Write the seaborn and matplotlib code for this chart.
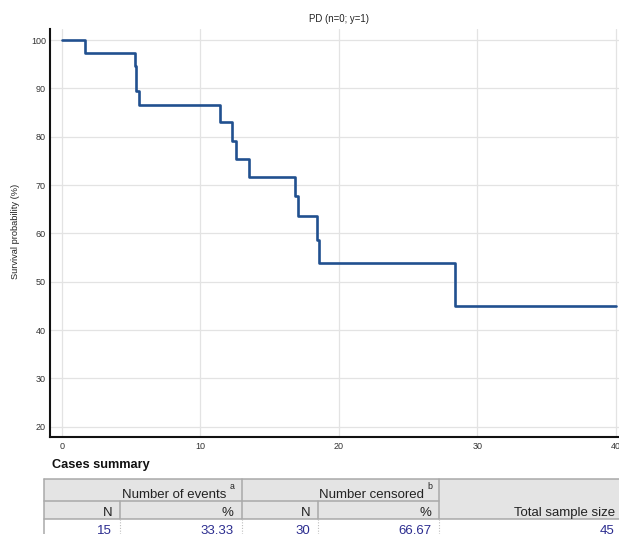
import matplotlib
matplotlib.use("Agg")
import matplotlib.pyplot as plt
import seaborn as sns
import pandas as pd
from matplotlib.patches import Rectangle

# Kaplan-Meier survival estimate (time, survival %)
times = [0, 1.66, 5.25, 5.34, 5.56, 11.38, 12.30, 12.59, 13.50, 16.82, 17.07, 18.39, 18.58, 28.38, 40.0]
survival = [100, 97.4, 94.7, 89.4, 86.5, 83.0, 79.2, 75.4, 71.7, 67.8, 63.6, 58.7, 53.9, 44.9, 44.9]

x_ticks = [0, 10, 20, 30, 40]
y_ticks = [20, 30, 40, 50, 60, 70, 80, 90, 100]

title_text = "PD (n=0; y=1)"
y_label = "Survival probability (%)"

# Cases summary table
summary_title = "Cases summary"
group_headers = ["Number of events", "Number censored"]
group_marks = ["a", "b"]
sub_headers = ["N", "%", "N", "%"]
total_header = "Total sample size"
summary_values = ["15", "33.33", "30", "66.67", "45"]

sns.set_style("white")
plt.rcParams["font.family"] = ["Liberation Sans", "DejaVu Sans"]

W, H = 619, 534
fig = plt.figure(figsize=(W / 100, H / 100), dpi=100)


def px_box(left, top, right, bottom):
    return [left / W, 1 - bottom / H, (right - left) / W, (bottom - top) / H]


ax = fig.add_axes(px_box(50, 28.5, 619, 437.3))
df = pd.DataFrame({"time": times, "survival": survival})
sns.lineplot(data=df, x="time", y="survival", drawstyle="steps-post",
             color="#21508f", linewidth=1.9, estimator=None, ax=ax, zorder=3)

ax.set_xlim(-0.866, 40.22)
ax.set_ylim(17.8, 102.4)
ax.set_xticks(x_ticks)
ax.set_xticklabels([str(v) for v in x_ticks])
ax.set_yticks(y_ticks)
ax.set_yticklabels([str(v) for v in y_ticks])
ax.set_xticks([5, 15, 25, 35], minor=True)
ax.set_yticks([25, 35, 45, 55, 65, 75, 85, 95], minor=True)
ax.set_xlabel("")
ax.set_ylabel("")

ax.grid(True, which="major", color="#e3e3e3", linewidth=0.9, zorder=0)
ax.set_axisbelow(True)
for side in ["top", "right"]:
    ax.spines[side].set_visible(False)
for side in ["left", "bottom"]:
    ax.spines[side].set_color("#111111")
    ax.spines[side].set_linewidth(1.5)

ax.tick_params(axis="x", which="major", direction="in", length=6.5, width=1.2,
               color="#222222", labelsize=6.5, labelcolor="#333333", pad=3.5)
ax.tick_params(axis="y", which="major", direction="in", length=7.8, width=1.2,
               color="#222222", labelsize=6.5, labelcolor="#333333", pad=3)
ax.tick_params(axis="both", which="minor", direction="in", length=3.2, width=0.7,
               color="#888888")

fig.text(339 / W, 1 - 19 / H, title_text, ha="center", va="center",
         fontsize=6.9, color="#222222")
fig.text(15.5 / W, 1 - 231 / H, y_label, ha="center", va="center",
         rotation=90, fontsize=6.7, color="#222222")

# Summary table drawn in pixel coordinates
tab = fig.add_axes([0, 0, 1, 1])
tab.set_xlim(0, W)
tab.set_ylim(H, 0)
tab.axis("off")
tab.patch.set_alpha(0)

tab.text(52.5, 468, summary_title, ha="left", va="baseline",
         fontsize=9.2, fontweight="bold", color="#111111")

cols = [43.5, 120, 241.7, 318.3, 439.3, 660]
rows = [479, 500.7, 519, 545]
border = "#a9a9a9"
tab.add_patch(Rectangle((cols[0], rows[0]), cols[5] - cols[0], rows[2] - rows[0],
                        facecolor="#e4e4e4", edgecolor="none"))
lw = 1.1
tab.plot([cols[0], cols[5]], [rows[0], rows[0]], color=border, lw=lw)
tab.plot([cols[0], cols[4]], [rows[1], rows[1]], color=border, lw=lw)
tab.plot([cols[0], cols[5]], [rows[2], rows[2]], color=border, lw=lw)
tab.plot([cols[0], cols[0]], [rows[0], rows[3]], color=border, lw=lw)
for c in (cols[2], cols[4]):
    tab.plot([c, c], [rows[0], rows[2]], color=border, lw=lw)
for c in (cols[1], cols[3]):
    tab.plot([c, c], [rows[1], rows[2]], color=border, lw=lw)
for c in cols[1:5]:
    tab.plot([c, c], [rows[2], rows[3]], color="#bdbdbd", lw=0.8, ls=(0, (1, 1.5)))

fs = 9.5
head_col = "#222222"
pad = 8
# group headers with superscript marks
for i, (label, mark) in enumerate(zip(group_headers, group_marks)):
    right = cols[2 * i + 2] - pad - 7
    tab.text(right, 498, label, ha="right", va="baseline", fontsize=fs, color=head_col)
    tab.text(right + 3, 489, mark, ha="left", va="baseline", fontsize=6.3, color=head_col)

for i, label in enumerate(sub_headers):
    tab.text(cols[i + 1] - pad, 516.5, label, ha="right", va="baseline",
             fontsize=fs, color=head_col)
tab.text(615, 516, total_header, ha="right", va="baseline", fontsize=fs, color=head_col)

value_right = [cols[1] - pad, cols[2] - pad, cols[3] - pad, cols[4] - pad + 0.5, 614.5]
for x, v in zip(value_right, summary_values):
    tab.text(x, 533.5, v, ha="right", va="baseline", fontsize=fs, color="#2b2c8f")

fig.savefig("out.png", dpi=100)
